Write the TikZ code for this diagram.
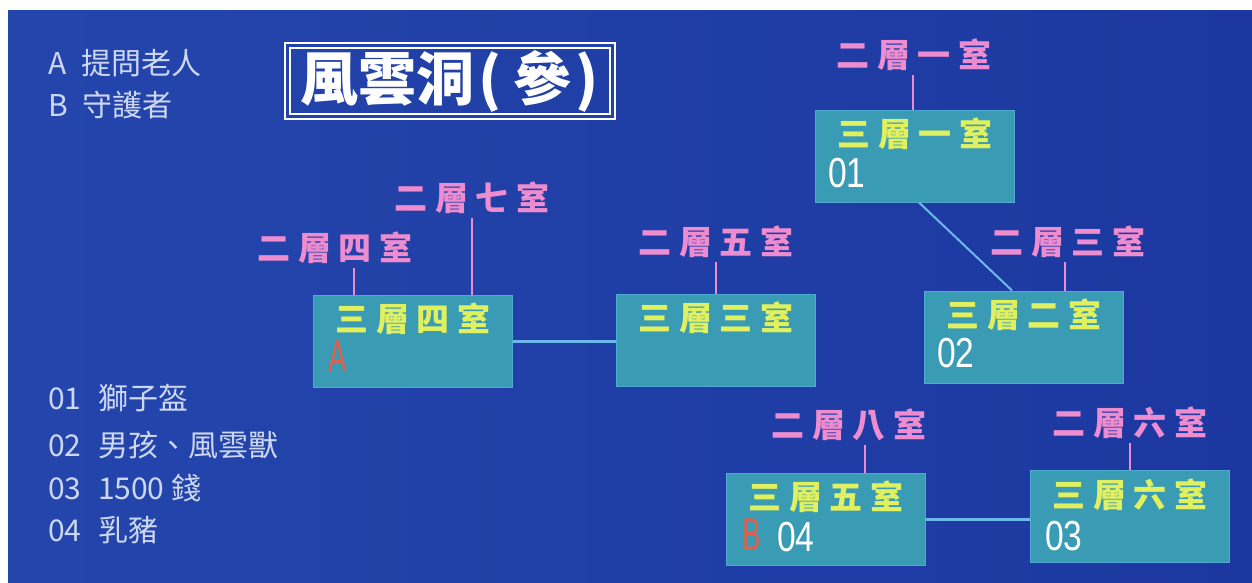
\documentclass[tikz,border=0pt]{standalone}
\usepackage{fontspec}
\usepackage{tikz}
\setmainfont{Noto Sans CJK TC}
\newfontfamily\roomfont[LetterSpace=24]{Noto Sans CJK TC}
\newfontfamily\numfont[FakeStretch=0.8]{Liberation Sans}
\newfontfamily\npcfont[FakeStretch=0.6]{Liberation Sans}

\definecolor{bgleft}{RGB}{36,70,172}
\definecolor{bgright}{RGB}{28,56,160}
\definecolor{cavebg}{RGB}{33,66,168}
\definecolor{roomfill}{RGB}{58,155,180}
\definecolor{roomedge}{RGB}{80,170,210}
\definecolor{roomyellow}{RGB}{225,240,95}
\definecolor{roompink}{RGB}{238,140,208}
\definecolor{passblue}{RGB}{110,185,235}
\definecolor{npcred}{RGB}{225,95,75}
\definecolor{legendtext}{RGB}{205,215,240}

\tikzset{
  room/.style={draw=roomedge, line width=1pt, fill=roomfill,
    minimum width=199pt, minimum height=92pt, inner sep=0pt},
  floor3/.style={text=roomyellow, inner sep=0pt,
    font=\roomfont\bfseries\fontsize{33}{33}\selectfont},
  floor2/.style={text=roompink, inner sep=0pt,
    font=\roomfont\bfseries\fontsize{33}{33}\selectfont},
  itemno/.style={text=white, anchor=west, inner sep=0pt,
    font=\numfont\fontsize{42}{42}\selectfont},
  npc/.style={text=npcred, anchor=west, inner sep=0pt,
    font=\npcfont\fontsize{46}{46}\selectfont},
  legend/.style={text=legendtext, anchor=west, inner sep=0pt,
    font=\fontsize{30}{30}\selectfont},
  titlebox/.style={draw=white, line width=2pt, double=cavebg, double distance=3pt,
    minimum width=325pt, minimum height=71pt, inner sep=0pt, text=white,
    font=\bfseries\fontsize{58}{58}\selectfont},
  stem/.style={draw=roompink, line width=2.5pt, shorten <=4pt},
  passage/.style={draw=passblue, line width=3pt},
}

\begin{document}
\begin{tikzpicture}[x=1pt,y=-1pt]
\useasboundingbox (0,0) rectangle (1252,582);
\fill[white] (0,0) rectangle (1252,582);
\shade[left color=bgleft,right color=bgright] (8,10) rectangle (1252,582);

% legend
\node[legend] (npcA) at (48,63) {A\enspace 提問老人};
\node[legend] (npcB) at (48,105) {B\enspace 守護者};
\node[legend] (item1) at (48,398) {01\hspace{0.55em}獅子盔};
\node[legend] (item2) at (48,445) {02\hspace{0.55em}男孩、風雲獸};
\node[legend] (item3) at (48,488) {03\hspace{0.55em}1500 錢};
\node[legend] (item4) at (48,530) {04\hspace{0.55em}乳豬};

\node[titlebox] (title) at (450,81) {風雲洞\kern4pt(\kern12pt參\kern4pt)};

% third floor rooms
\node[room] (r34) at (413,341) {};
\node[room] (r33) at (716,340) {};
\node[room] (r31) at (915,156) {};
\node[room] (r32) at (1024,337) {};
\node[room] (r35) at (826,519) {};
\node[room] (r36) at (1130,516) {};

\node[floor3] (n34) at ([yshift=-24pt]r34.north) {三層四室};
\node[floor3] (n33) at ([yshift=-24pt]r33.north) {三層三室};
\node[floor3] (n31) at ([yshift=-24pt]r31.north) {三層一室};
\node[floor3] (n32) at ([yshift=-24pt]r32.north) {三層二室};
\node[floor3] (n35) at ([yshift=-24pt]r35.north) {三層五室};
\node[floor3] (n36) at ([yshift=-25pt]r36.north) {三層六室};

\node[itemno] (o1) at ([xshift=13pt,yshift=29pt]r31.south west) {01};
\node[itemno] (o2) at ([xshift=13pt,yshift=30pt]r32.south west) {02};
\node[itemno] (o3) at ([xshift=15pt,yshift=26pt]r36.south west) {03};
\node[itemno] (o4) at ([xshift=51pt,yshift=28pt]r35.south west) {04};
\node[npc] (mA) at ([xshift=15pt,yshift=31pt]r34.south west) {A};
\node[npc] (mB) at ([xshift=16pt,yshift=31pt]r35.south west) {B};

% stairs up to the second floor
\node[floor2] (u24) at (335,248) {二層四室};
\node[floor2] (u27) at (472,198) {二層七室};
\node[floor2] (u25) at (716,242) {二層五室};
\node[floor2] (u21) at (914,55) {二層一室};
\node[floor2] (u23) at (1068,242) {二層三室};
\node[floor2] (u28) at (849,425) {二層八室};
\node[floor2] (u26) at (1130,423) {二層六室};

\draw[stem] ([xshift=19pt]u24.south) -- ([xshift=19pt]u24.south |- r34.north);
\draw[stem] (u27.south) -- (u27.south |- r34.north);
\draw[stem] (u25.south) -- (u25.south |- r33.north);
\draw[stem] ([xshift=-1pt]u21.south) -- ([xshift=-1pt]u21.south |- r31.north);
\draw[stem] ([xshift=-3pt]u23.south) -- ([xshift=-3pt]u23.south |- r32.north);
\draw[stem] ([xshift=16pt]u28.south) -- ([xshift=16pt]u28.south |- r35.north);
\draw[stem] (u26.south) -- (u26.south |- r36.north);

% passages
\draw[passage] (r34.east) -- (r33.west |- r34.east);
\draw[passage, line width=2pt] ([xshift=4pt]r31.south) -- ([xshift=-12pt]r32.north);
\draw[passage] (r35.east) -- (r36.west |- r35.east);
\end{tikzpicture}
\end{document}
